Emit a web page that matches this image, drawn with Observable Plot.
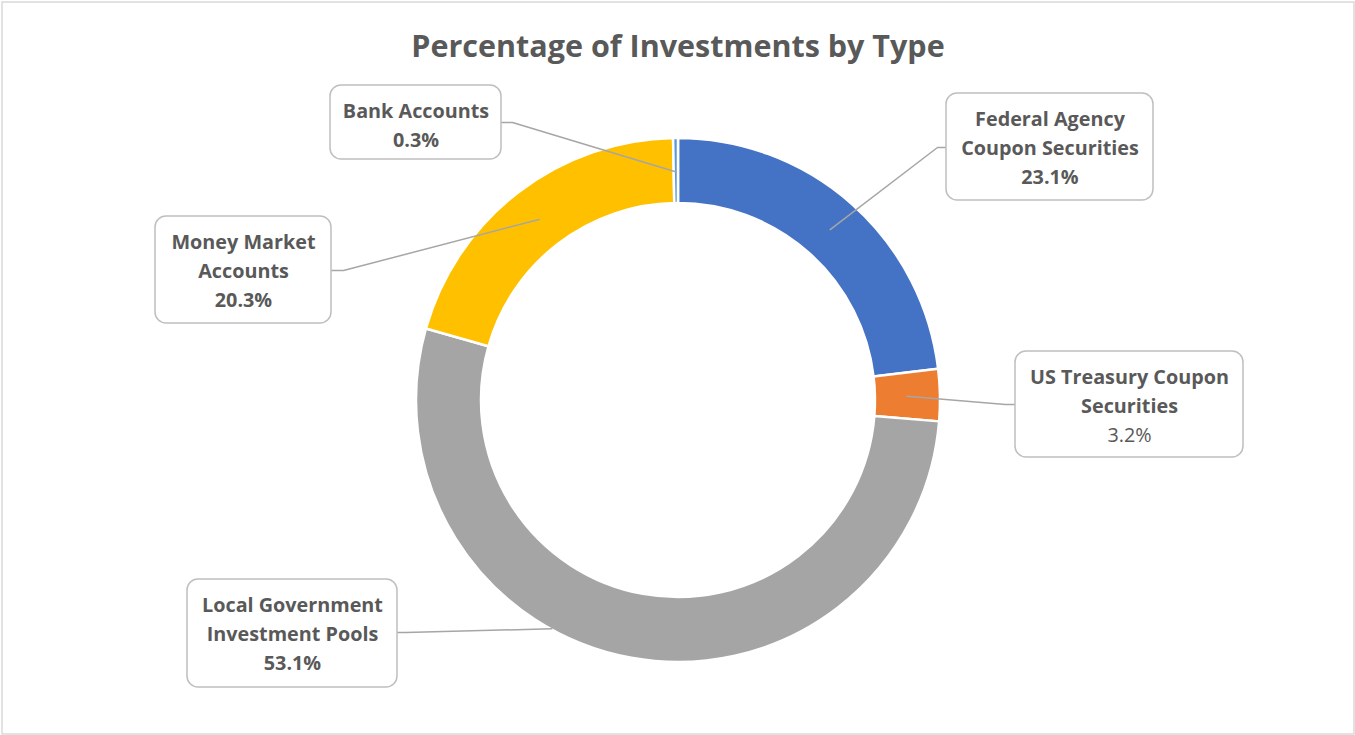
<!DOCTYPE html>
<html><head><meta charset="utf-8">
<script src="https://cdn.jsdelivr.net/npm/d3@7"></script>
<script src="https://cdn.jsdelivr.net/npm/@observablehq/plot@0.6"></script>
<style>
html,body{margin:0;padding:0;background:#fff;}
#chart{width:1355px;height:735px;}
svg{font-family:"Open Sans",sans-serif;}
</style></head><body><div id="chart"></div>
<script>
// ---- data ----
const title = "Percentage of Investments by Type";
const categories = ["Federal Agency Coupon Securities", "US Treasury Coupon Securities", "Local Government Investment Pools", "Money Market Accounts", "Bank Accounts"];
const shares = [23.1, 3.2, 53.1, 20.3, 0.3];
const colors = ["#4472C4", "#ED7D31", "#A5A5A5", "#FFC000", "#5B9BD5"];

// ---- layout (pixels) ----
const W = 1355, H = 735;
const donut = {cx: 678, cy: 400, outer: 262, inner: 197};
const labelLayout = [
  {lines: ["Federal Agency", "Coupon Securities"], box: [946, 93, 1153, 200], elbow: [937, 147], attach: [946, 147], valueBold: true},
  {lines: ["US Treasury Coupon", "Securities"], box: [1015, 351, 1243, 457], elbow: [1005, 404], attach: [1015, 404], valueBold: false},
  {lines: ["Local Government", "Investment Pools"], box: [187, 579, 397, 687], elbow: [405, 632], attach: [397, 632], valueBold: true, targetAngle: 209, targetR: 261},
  {lines: ["Money Market", "Accounts"], box: [155, 216, 331, 323], elbow: [343, 270], attach: [331, 270], valueBold: true},
  {lines: ["Bank Accounts"], box: [330, 85, 501, 159], elbow: [512, 122], attach: [501, 122], valueBold: true}
];
const textColor = "#595959";

const rows = categories.map((c, i) => ({category: c, share: shares[i], color: colors[i], layout: labelLayout[i]}));
const arcs = d3.pie().sort(null).value(d => d.share)(rows);

// leader lines
const leaderPts = [];
arcs.forEach((a, i) => {
  const L = rows[i].layout;
  const ang = L.targetAngle != null ? L.targetAngle * Math.PI / 180 : (a.startAngle + a.endAngle) / 2;
  const r = L.targetR != null ? L.targetR : (donut.outer + donut.inner) / 2 - 1;
  leaderPts.push({k: i, x: donut.cx + r * Math.sin(ang), y: donut.cy - r * Math.cos(ang)});
  leaderPts.push({k: i, x: L.elbow[0], y: L.elbow[1]});
  leaderPts.push({k: i, x: L.attach[0], y: L.attach[1]});
});

// label text lines
const textLines = [];
rows.forEach((d, i) => {
  const L = d.layout;
  const cx = (L.box[0] + L.box[2]) / 2;
  const top = L.box[1] + 32;
  L.lines.forEach((t, j) => textLines.push({x: cx, y: top + j * 29, text: t, bold: true}));
  textLines.push({x: cx, y: top + L.lines.length * 29, text: d3.format(".1f")(d.share) + "%", bold: L.valueBold});
});

function donutMark(index, scales) {
  const x = scales.x, y = scales.y;
  const arc = d3.arc().innerRadius(donut.inner).outerRadius(donut.outer);
  const g = d3.create("svg:g").attr("transform", `translate(${x(donut.cx)},${y(donut.cy)})`);
  g.selectAll("path").data(arcs).join("path")
    .attr("d", arc)
    .attr("fill", d => d.data.color)
    .attr("stroke", "#fff")
    .attr("stroke-width", 2.5)
    .attr("stroke-linejoin", "round");
  return g.node();
}

const chart = Plot.plot({
  width: W, height: H, margin: 0,
  x: {domain: [0, W], range: [0, W], axis: null},
  y: {domain: [0, H], range: [0, H], axis: null},
  style: {fontFamily: "'Open Sans', sans-serif", background: "#fff"},
  marks: [
    Plot.frame({stroke: "#D9D9D9", strokeWidth: 1.5, inset: 1.5}),
    donutMark,
    Plot.line(leaderPts, {x: "x", y: "y", z: "k", stroke: "#A6A6A6", strokeWidth: 1.5, curve: "linear"}),
    Plot.rect(rows, {x1: d => d.layout.box[0], y1: d => d.layout.box[1], x2: d => d.layout.box[2], y2: d => d.layout.box[3], fill: "#fff", stroke: "#BFBFBF", strokeWidth: 1.5, rx: 11}),
    Plot.text(textLines.filter(d => d.bold), {x: "x", y: "y", text: "text", lineAnchor: "bottom", textAnchor: "middle", fill: textColor, fontSize: 19.8, fontWeight: "bold"}),
    Plot.text(textLines.filter(d => !d.bold), {x: "x", y: "y", text: "text", lineAnchor: "bottom", textAnchor: "middle", fill: textColor, fontSize: 19.8, fontWeight: "normal"}),
    Plot.text([title], {x: W / 2, y: 56, text: d => d, lineAnchor: "bottom", textAnchor: "middle", fill: textColor, fontSize: 30.5, fontWeight: "bold"})
  ]
});
document.getElementById("chart").appendChild(chart);
</script>
</body></html>
